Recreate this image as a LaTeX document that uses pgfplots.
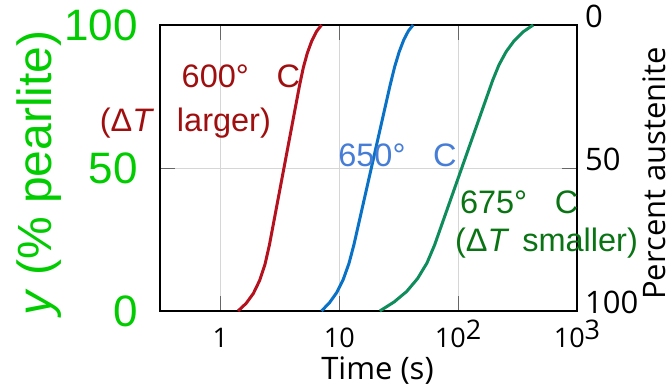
\documentclass[border=0pt]{standalone}
\usepackage{fontspec}
\setmainfont{Liberation Sans}
\newfontfamily\osf{Open Sans}
\usepackage{pgfplots}
\pgfplotsset{compat=1.18}
\definecolor{redc}{RGB}{180,18,30}
\definecolor{redl}{RGB}{160,15,15}
\definecolor{bluec}{RGB}{10,114,198}
\definecolor{bluel}{RGB}{70,125,215}
\definecolor{greenc}{RGB}{14,140,92}
\definecolor{greenl}{RGB}{10,115,20}
\definecolor{greenax}{RGB}{0,204,0}
\begin{document}
\begin{tikzpicture}[x=1pt,y=1pt]
\path[use as bounding box] (0,0) rectangle (672,387);
\begin{axis}[
  at={(160pt,76pt)}, anchor=south west,
  scale only axis, width=417pt, height=286pt,
  xmode=log, xmin=0.31, xmax=1000, ymin=0, ymax=100,
  xtick={1,10,100,1000},
  xticklabels={1,10,10\raisebox{8pt}{2},10\raisebox{8pt}{3}},
  xminorticks=false,
  ytick={0,50,100}, yticklabels={0,50,100},
  grid=major, major grid style={draw=black!16, line width=0.8pt},
  tick align=inside, major tick length=15pt,
  tick style={draw=black!60, line width=0.9pt},
  axis line style={line width=2.8pt},
  clip=false,
  xticklabel style={font=\osf\fontsize{27}{27}\selectfont, anchor=base, inner sep=0pt, yshift=-36.7pt},
  yticklabel style={font=\fontsize{44}{44}\selectfont, text=greenax, anchor=east, inner sep=0pt, xshift=-22pt},
  xlabel={Time (s)},
  xlabel style={font=\osf\fontsize{31}{31}\selectfont, at={(axis description cs:0.5216,-0.2378)}, anchor=base, inner sep=0pt},
  ylabel={\textit{y} (\% pearlite)},
  ylabel style={font=\fontsize{48}{48}\selectfont, text=greenax, at={(axis description cs:-0.259,0.4825)}, anchor=base, inner sep=0pt},
]
\addplot[redc, line width=3pt, line join=round] coordinates {
(1.406,0) (1.647,2.70) (1.893,6.15) (2.138,10.70) (2.371,16.34) (2.582,23.08)
(4.637,79.02) (4.982,85.11) (5.389,90.25) (5.866,94.44) (6.424,97.70) (7.083,100)};
\addplot[bluec, line width=3pt, line join=round] coordinates {
(7.083,0) (8.27,2.89) (9.51,6.44) (10.78,10.98) (12.04,16.53) (13.26,23.08)
(26.79,79.02) (29.22,85.36) (31.92,90.64) (34.89,94.83) (38.16,97.95) (41.81,100)};
\addplot[greenc, line width=3pt, line join=round] coordinates {
(21.93,0) (28.92,3.16) (36.93,6.84) (45.64,11.38) (54.68,16.80) (63.37,23.08)
(195.7,80.77) (220.8,86.09) (253.5,90.68) (296.4,94.52) (353.0,97.63) (427.9,100)};
\node[anchor=base west, text=redl, font=\fontsize{32.5}{32.5}\selectfont, inner sep=0pt] at (axis cs:0.47,78) {600°\hspace{0.85em}C};
\node[anchor=base west, text=redl, font=\fontsize{32.5}{32.5}\selectfont, inner sep=0pt] at (axis cs:0.0964,62.7) {(Δ\textit{T}\hspace{0.7em}larger)};
\node[anchor=base west, text=bluel, font=\fontsize{32.5}{32.5}\selectfont, inner sep=0pt] at (axis cs:9.77,50.45) {650°\hspace{0.85em}C};
\node[anchor=base west, text=greenl, font=\fontsize{32.5}{32.5}\selectfont, inner sep=0pt] at (axis cs:103.3,34.2) {675°\hspace{0.85em}C};
\node[anchor=base west, text=greenl, font=\fontsize{32.5}{32.5}\selectfont, inner sep=0pt] at (axis cs:93.8,20.7) {(Δ\textit{T}\hspace{0.4em}smaller)};
\node[rotate=90, anchor=base west, font=\osf\fontsize{31}{31}\selectfont, inner sep=0pt] at (rel axis cs:1.2134,0.0385) {Percent austenite};
\end{axis}
\begin{axis}[
  at={(160pt,76pt)}, anchor=south west,
  scale only axis, width=417pt, height=286pt,
  xmode=log, xmin=0.31, xmax=1000,
  hide x axis, axis y line*=right,
  ymin=0, ymax=100, y dir=reverse,
  ytick={0,50,100}, yticklabels={0,50,100},
  axis line style={draw=none}, tick style={draw=none},
  yticklabel style={font=\osf\fontsize{31}{31}\selectfont, anchor=base west, inner sep=0pt, xshift=8pt, yshift=-3pt},
]
\addplot[draw=none] coordinates {(1,0) (10,100)};
\end{axis}
\end{tikzpicture}
\end{document}
